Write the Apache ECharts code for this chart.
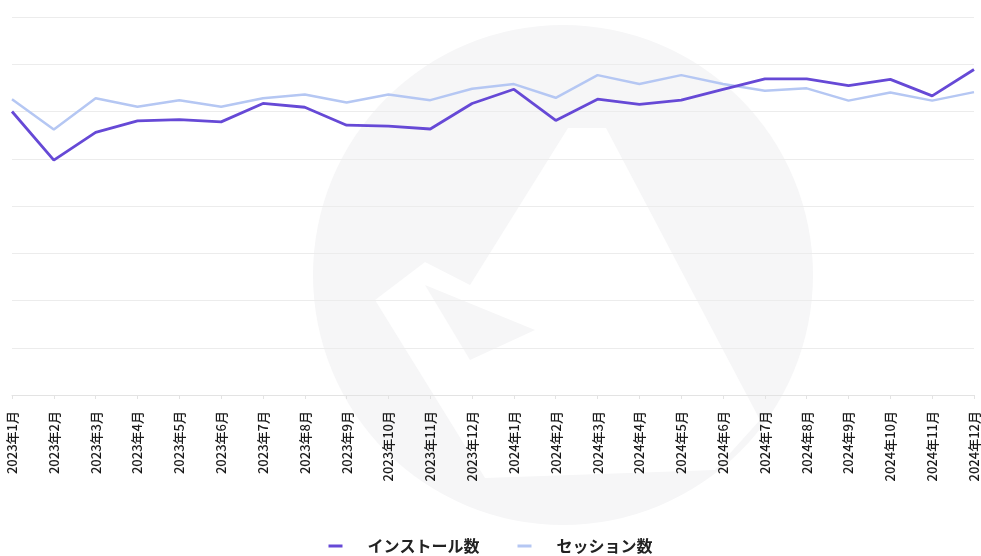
<!DOCTYPE html>
<html>
<head>
<meta charset="utf-8">
<script src="https://cdn.jsdelivr.net/npm/echarts@6/dist/echarts.min.js"></script>
<style>html,body{margin:0;padding:0;background:#fff;}#c{width:981px;height:556px;}</style>
</head>
<body>
<div id="c"></div>
<script>
const categories = ['2023年1月','2023年2月','2023年3月','2023年4月','2023年5月','2023年6月','2023年7月','2023年8月','2023年9月','2023年10月','2023年11月','2023年12月','2024年1月','2024年2月','2024年3月','2024年4月','2024年5月','2024年6月','2024年7月','2024年8月','2024年9月','2024年10月','2024年11月','2024年12月'];
const installs = [600,497,556,580,583,578,617,609,571,569,563,617,647,581,626,615,624,647,669,669,655,668,633,689];
const sessions = [626,562,628,610,624,610,628,636,619,636,624,648,658,629,677,658,677,658,644,649,623,640,623,641];
const seriesNames = ['インストール数','セッション数'];

const chart = echarts.init(document.getElementById('c'));
chart.setOption({
  animation: false,
  backgroundColor: '#ffffff',
  textStyle: { fontFamily: '"Noto Sans CJK JP", "Noto Sans", sans-serif' },
  graphic: [
    { type: 'circle', z: -10, silent: true, shape: { cx: 563, cy: 275, r: 250 }, style: { fill: '#f6f6f7' } },
    { type: 'polygon', z: -9, silent: true, shape: { points: [[568,128],[606,128],[760,420],[715,470],[485,478],[375,300],[425,262],[470,285]] }, style: { fill: '#ffffff' } },
    { type: 'polygon', z: -8, silent: true, shape: { points: [[425,285],[535,330],[470,360]] }, style: { fill: '#f6f6f7' } }
  ],
  grid: { left: 12, right: 7, top: 17, bottom: 161, containLabel: false },
  legend: {
    top: 533,
    left: 'center',
    itemGap: 38,
    itemWidth: 14,
    itemHeight: 3,
    icon: 'rect',
    textStyle: { fontSize: 16, color: '#222', fontWeight: 600, padding: [0, 0, 0, 20] },
    data: seriesNames
  },
  xAxis: {
    type: 'category',
    data: categories,
    boundaryGap: false,
    axisLine: { lineStyle: { color: '#e3e3e3' } },
    axisTick: { show: true, lineStyle: { color: '#e3e3e3' }, length: 4 },
    axisLabel: { rotate: 90, fontSize: 13, fontWeight: 500, color: '#1a1a1a', margin: 16, interval: 0 }
  },
  yAxis: {
    type: 'value',
    min: 0,
    max: 800,
    interval: 100,
    axisLabel: { show: false },
    axisLine: { show: false },
    axisTick: { show: false },
    splitLine: { lineStyle: { color: '#ececec' } }
  },
  series: [
    { name: seriesNames[0], type: 'line', data: installs, showSymbol: false, symbol: 'none', lineStyle: { color: '#6649d6', width: 2.8 }, itemStyle: { color: '#6649d6' }, z: 3 },
    { name: seriesNames[1], type: 'line', data: sessions, showSymbol: false, symbol: 'none', lineStyle: { color: '#b5c7f3', width: 2.5 }, itemStyle: { color: '#b5c7f3' }, z: 2 }
  ]
});
</script>
</body>
</html>
